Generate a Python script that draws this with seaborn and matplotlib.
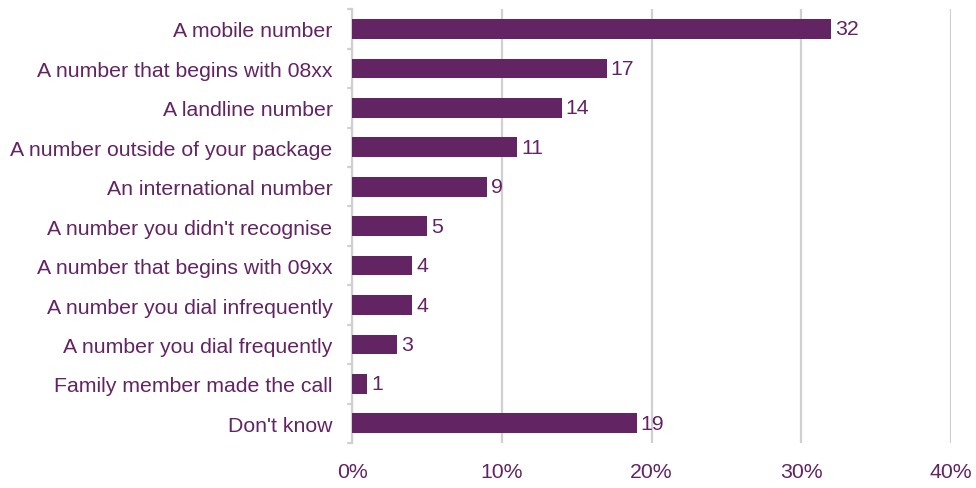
import matplotlib
matplotlib.use("Agg")
import matplotlib.pyplot as plt
import seaborn as sns
import pandas as pd

categories = [
    "A mobile number",
    "A number that begins with 08xx",
    "A landline number",
    "A number outside of your package",
    "An international number",
    "A number you didn't recognise",
    "A number that begins with 09xx",
    "A number you dial infrequently",
    "A number you dial frequently",
    "Family member made the call",
    "Don't know",
]
values = [32, 17, 14, 11, 9, 5, 4, 4, 3, 1, 19]
x_ticks = [0, 10, 20, 30, 40]
x_tick_labels = ["0%", "10%", "20%", "30%", "40%"]

purple = "#632463"
grid_grey = "#d0d0d0"

sns.set_theme(style="white")
plt.rcParams["font.family"] = ["Liberation Sans", "DejaVu Sans"]

df = pd.DataFrame({"category": categories, "value": values})

fig = plt.figure(figsize=(9.76, 4.89), dpi=100)
ax = fig.add_axes([0.3607, 0.092, 0.6137, 0.887])

sns.barplot(data=df, x="value", y="category", color=purple, saturation=1,
            width=0.5, linewidth=0, ax=ax, zorder=3)

n = len(categories)
ax.set_xlim(0, 40)
ax.set_ylim(n - 0.5, -0.5)
ax.set_xticks(x_ticks)
ax.set_xticklabels(x_tick_labels)
ax.set_xlabel("")
ax.set_ylabel("")

ax.grid(axis="x", color=grid_grey, linewidth=1.6, zorder=0)
ax.grid(axis="y", visible=False)

for side in ["top", "right", "bottom"]:
    ax.spines[side].set_visible(False)
ax.spines["left"].set_color(grid_grey)
ax.spines["left"].set_linewidth(1.6)

ax.tick_params(axis="x", length=0, pad=14, labelsize=15.3, labelcolor=purple)
ax.tick_params(axis="y", length=0, pad=14, labelsize=15.3, labelcolor=purple)

# short ticks between category rows on the value axis
for b in [i - 0.5 for i in range(n + 1)]:
    ax.plot([-0.25, 0], [b, b], color=grid_grey, linewidth=1.6,
            clip_on=False, zorder=4)

for container in ax.containers:
    ax.bar_label(container, labels=[str(v) for v in values], padding=3,
                 fontsize=15.3, color=purple)

fig.savefig("out.png", dpi=100)
